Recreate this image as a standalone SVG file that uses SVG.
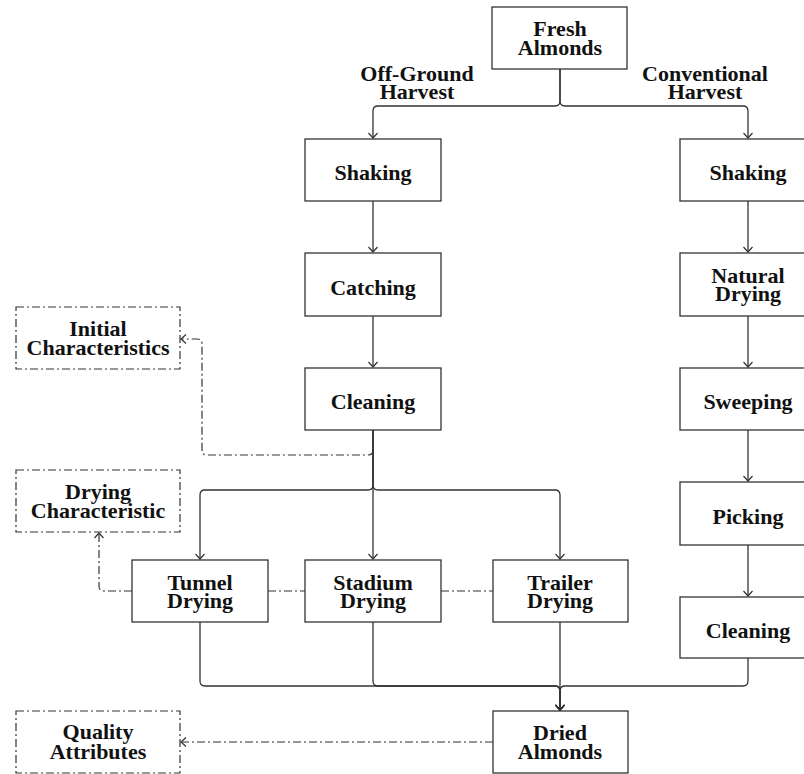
<svg xmlns="http://www.w3.org/2000/svg" width="804" height="774" viewBox="0 0 804 774">
<style>
.box{fill:#fff;stroke:#333;stroke-width:1.3}
.dbox{fill:#fff;stroke:#333;stroke-width:1.2;stroke-dasharray:8,3,2,3}
.t{font-family:"Liberation Serif","Times New Roman",serif;font-weight:bold;font-size:22px;fill:#111;text-anchor:middle}
.c{fill:none;stroke:#333;stroke-width:1.3}
.d{fill:none;stroke:#333;stroke-width:1.2;stroke-dasharray:8,3,2,3}
</style>
<defs>
<marker id="a" markerUnits="userSpaceOnUse" markerWidth="12" markerHeight="12" refX="6" refY="6" orient="auto" viewBox="0 0 12 12">
<path d="M1,1.5 L6,6 L1,10.5" fill="none" stroke="#333" stroke-width="1.2"/>
</marker>
</defs>
<g id="connectors">
<path class="c" d="M560,69 V101 Q560,106 555,106 H378 Q373,106 373,111 V138" marker-end="url(#a)"/>
<path class="c" d="M560,69 V101 Q560,106 565,106 H743 Q748,106 748,111 V138" marker-end="url(#a)"/>
<path class="c" d="M373,201 V252" marker-end="url(#a)"/>
<path class="c" d="M373,316 V367" marker-end="url(#a)"/>
<path class="c" d="M748,201 V252" marker-end="url(#a)"/>
<path class="c" d="M748,316 V367" marker-end="url(#a)"/>
<path class="c" d="M748,430 V481" marker-end="url(#a)"/>
<path class="c" d="M748,545 V596" marker-end="url(#a)"/>
<path class="c" d="M373,430 V485 Q373,490 368,490 H205 Q200,490 200,495 V559" marker-end="url(#a)"/>
<path class="c" d="M373,430 V485 Q373,490 378,490 H555 Q560,490 560,495 V559" marker-end="url(#a)"/>
<path class="c" d="M373,430 V559" marker-end="url(#a)"/>
<path class="c" d="M200,622 V681 Q200,686 205,686 H555 Q560,686 560,691 V710" marker-end="url(#a)"/>
<path class="c" d="M373,622 V681 Q373,686 378,686 H555 Q560,686 560,691 V710" marker-end="url(#a)"/>
<path class="c" d="M560,622 V710" marker-end="url(#a)"/>
<path class="c" d="M748,658 V681 Q748,686 743,686 H565 Q560,686 560,691 V710" marker-end="url(#a)"/>
<path class="d" d="M373,450 Q373,455 368,455 H207 Q202,455 202,450 V344 Q202,339 197,339 H181" marker-end="url(#a)"/>
<path class="d" d="M132,591 H104 Q99,591 99,586 V533" marker-end="url(#a)"/>
<path class="d" d="M268,591 H305"/>
<path class="d" d="M441,591 H493"/>
<path class="d" d="M493,742 H181" marker-end="url(#a)"/>
</g>
<g id="label-offground"><text class="t" x="417" y="81">Off-Ground<tspan x="417" dy="18">Harvest</tspan></text></g>
<g id="label-conventional"><text class="t" x="705" y="81">Conventional<tspan x="705" dy="18">Harvest</tspan></text></g>
<g id="fresh"><rect class="box" x="492" y="7" width="135" height="62"/><text class="t" x="560" y="36">Fresh<tspan x="560" dy="19">Almonds</tspan></text></g>
<g id="shaking-l"><rect class="box" x="305" y="139" width="136" height="62"/><text class="t" x="373" y="180">Shaking</text></g>
<g id="catching"><rect class="box" x="305" y="253" width="136" height="63"/><text class="t" x="373" y="295">Catching</text></g>
<g id="cleaning-l"><rect class="box" x="305" y="368" width="136" height="62"/><text class="t" x="373" y="409">Cleaning</text></g>
<g id="shaking-r"><rect class="box" x="680" y="139" width="136" height="62"/><text class="t" x="748" y="180">Shaking</text></g>
<g id="natural"><rect class="box" x="680" y="253" width="136" height="63"/><text class="t" x="748" y="283">Natural<tspan x="748" dy="18">Drying</tspan></text></g>
<g id="sweeping"><rect class="box" x="680" y="368" width="136" height="62"/><text class="t" x="748" y="409">Sweeping</text></g>
<g id="picking"><rect class="box" x="680" y="482" width="136" height="63"/><text class="t" x="748" y="524">Picking</text></g>
<g id="cleaning-r"><rect class="box" x="680" y="597" width="136" height="61"/><text class="t" x="748" y="638">Cleaning</text></g>
<g id="tunnel"><rect class="box" x="132" y="560" width="136" height="62"/><text class="t" x="200" y="590">Tunnel<tspan x="200" dy="18">Drying</tspan></text></g>
<g id="stadium"><rect class="box" x="305" y="560" width="136" height="62"/><text class="t" x="373" y="590">Stadium<tspan x="373" dy="18">Drying</tspan></text></g>
<g id="trailer"><rect class="box" x="493" y="560" width="135" height="62"/><text class="t" x="560" y="590">Trailer<tspan x="560" dy="18">Drying</tspan></text></g>
<g id="dried"><rect class="box" x="493" y="711" width="135" height="62"/><text class="t" x="560" y="740">Dried<tspan x="560" dy="19">Almonds</tspan></text></g>
<g id="initial"><rect class="dbox" x="16" y="307" width="164" height="62"/><text class="t" x="98" y="336">Initial<tspan x="98" dy="19">Characteristics</tspan></text></g>
<g id="drying-char"><rect class="dbox" x="16" y="470" width="164" height="62"/><text class="t" x="98" y="499">Drying<tspan x="98" dy="19">Characteristic</tspan></text></g>
<g id="quality"><rect class="dbox" x="16" y="711" width="164" height="62"/><text class="t" x="98" y="739">Quality<tspan x="98" dy="20">Attributes</tspan></text></g>
</svg>
